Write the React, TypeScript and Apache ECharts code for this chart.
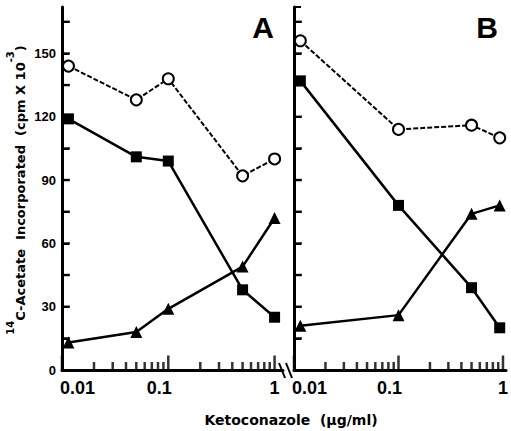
import React, { useEffect, useRef } from "react";
import * as echarts from "echarts";

// ---- data ----
const concA = [0.0115, 0.05, 0.1, 0.5, 1];
const controlA = [144, 128, 138, 92, 100];
const squaresA = [119, 101, 99, 38, 25];
const trianglesA = [13, 18, 29, 49, 72];

const concB = [0.0115, 0.1, 0.5, 0.93];
const controlB = [156, 114, 116, 110];
const squaresB = [137, 78, 39, 20];
const trianglesB = [21, 26, 74, 78];

const yTickValues = [15, 30, 45, 60, 75, 90, 105, 120, 135, 150, 165];
const yLabelStep = 30;
const xMajorTicks = [0.01, 0.1, 1];
const xMajorLabels = ["0.01", "0.1", "1"];
const xMinorTicks = [0.02, 0.03, 0.04, 0.05, 0.06, 0.07, 0.08, 0.09, 0.2, 0.3, 0.4, 0.5, 0.6, 0.7, 0.8, 0.9];
const panelLetters = ["A", "B"];
const xTitle = "Ketoconazole  (\u00b5g/ml)";

const xMax = [1.2, 1.07];
const grids = [
  { left: 62, top: 7, width: 221, height: 363 },
  { left: 294, top: 7, width: 216, height: 363 },
];

const TICK_FONT = "Liberation Sans";
const TITLE_FONT = "DejaVu Sans";

function buildOption() {
  const xAxis: any[] = [];
  const yAxis: any[] = [];
  const series: any[] = [];
  const panels = [
    { conc: concA, control: controlA, squares: squaresA, triangles: trianglesA },
    { conc: concB, control: controlB, squares: squaresB, triangles: trianglesB },
  ];
  panels.forEach((pd, p) => {
    const lmin = Math.log10(0.01);
    const lmax = Math.log10(xMax[p]);
    // data axis (log)
    xAxis.push({
      type: "log",
      logBase: 10,
      gridIndex: p,
      min: 0.01,
      max: xMax[p],
      position: "bottom",
      show: false,
    });
    // axis line + labels (in log10 units, same extent as the log axis)
    xAxis.push({
      type: "value",
      gridIndex: p,
      min: lmin,
      max: lmax,
      position: "bottom",
      axisLine: { show: true, onZero: false, lineStyle: { color: "#000", width: 3 } },
      axisTick: { show: false },
      axisLabel: {
        show: true,
        customValues: xMajorTicks.map((v) => Math.log10(v)),
        margin: 9,
        color: "#000",
        fontFamily: TICK_FONT,
        fontWeight: "bold",
        fontSize: 18,
        formatter: (v: number) => {
          const i = xMajorTicks.findIndex((t) => Math.abs(Math.log10(t) - v) < 1e-6);
          if (i < 0) return "";
          const key = i === 0 ? "r" : i === 1 ? "l" : "n";
          return `{${key}|${xMajorLabels[i]}}`;
        },
        rich: {
          r: { fontFamily: TICK_FONT, fontWeight: "bold", fontSize: 18, color: "#000", padding: [0, 0, 0, 31] },
          l: { fontFamily: TICK_FONT, fontWeight: "bold", fontSize: 18, color: "#000", padding: [0, 18, 0, 0] },
          n: { fontFamily: TICK_FONT, fontWeight: "bold", fontSize: 18, color: "#000" },
        },
      },
      splitLine: { show: false },
    });
    yAxis.push({
      type: "value",
      gridIndex: p,
      min: 0,
      max: 172,
      interval: 15,
      axisLine: { show: true, onZero: false, lineStyle: { color: "#000", width: 3 } },
      axisTick: { show: true, inside: true, length: 7, lineStyle: { color: "#000", width: 2 } },
      axisLabel: {
        show: p === 0,
        showMaxLabel: false,
        margin: 6,
        color: "#000",
        fontFamily: TICK_FONT,
        fontWeight: "bold",
        fontSize: 13,
        formatter: (v: number) => (Math.abs(v % yLabelStep) < 1e-6 ? String(v) : ""),
      },
      splitLine: { show: false },
    });
    const logIdx = p * 2;
    // x-axis tick marks, placed through the log axis
    series.push({
      type: "scatter",
      xAxisIndex: logIdx,
      yAxisIndex: p,
      silent: true,
      clip: false,
      symbol: "rect",
      symbolSize: [2.5, 8],
      symbolOffset: [0, -4],
      itemStyle: { color: "#000" },
      data: xMinorTicks.filter((t) => t <= xMax[p]).map((t) => [t, 0]),
      z: 1,
    });
    series.push({
      type: "scatter",
      xAxisIndex: logIdx,
      yAxisIndex: p,
      silent: true,
      clip: false,
      symbol: "rect",
      symbolSize: [2.5, 15],
      symbolOffset: [0, -7],
      itemStyle: { color: "#000" },
      data: xMajorTicks.filter((t) => t <= xMax[p]).map((t) => [t, 0]),
      z: 1,
    });
    // y-axis tick marks (inside)
    series.push({
      type: "scatter",
      xAxisIndex: logIdx + 1,
      yAxisIndex: p,
      silent: true,
      clip: false,
      symbol: "rect",
      symbolSize: [8, 2.5],
      symbolOffset: [4, 0],
      itemStyle: { color: "#000" },
      data: yTickValues.map((v) => [lmin, v]),
      z: 5,
    });
    series.push({
      type: "line",
      name: "control",
      xAxisIndex: logIdx,
      yAxisIndex: p,
      data: pd.conc.map((x, i) => [x, pd.control[i]]),
      symbol: "circle",
      symbolSize: 11,
      itemStyle: { color: "#fff", borderColor: "#000", borderWidth: 2 },
      lineStyle: { color: "#000", width: 2, type: [5, 2] },
      z: 4,
    });
    series.push({
      type: "line",
      name: "squares",
      xAxisIndex: logIdx,
      yAxisIndex: p,
      data: pd.conc.map((x, i) => [x, pd.squares[i]]),
      symbol: "rect",
      symbolSize: 11,
      itemStyle: { color: "#000" },
      lineStyle: { color: "#000", width: 2.5 },
      z: 3,
    });
    series.push({
      type: "line",
      name: "triangles",
      xAxisIndex: logIdx,
      yAxisIndex: p,
      data: pd.conc.map((x, i) => [x, pd.triangles[i]]),
      symbol: "triangle",
      symbolSize: 12,
      itemStyle: { color: "#000" },
      lineStyle: { color: "#000", width: 2.5 },
      z: 3,
    });
  });

  const graphic: any[] = [
    {
      type: "text",
      x: 16,
      y: 190,
      rotation: Math.PI / 2,
      style: {
        text: "{s|14}{b|C-Acetate  Incorporated  (cpm X 10}{s|-3}{b|)}",
        align: "center",
        verticalAlign: "middle",
        fill: "#000",
        rich: {
          b: { fontFamily: TITLE_FONT, fontWeight: "bold", fontSize: 13, lineHeight: 22, verticalAlign: "bottom", fill: "#000" },
          s: { fontFamily: TITLE_FONT, fontWeight: "bold", fontSize: 10, verticalAlign: "top", fill: "#000" },
        },
      },
    },
    {
      type: "text",
      x: 291,
      y: 420,
      style: {
        text: xTitle,
        align: "center",
        verticalAlign: "middle",
        fontFamily: TITLE_FONT,
        fontWeight: "bold",
        fontSize: 14,
        fill: "#000",
      },
    },
    {
      type: "text",
      x: 263,
      y: 27,
      style: { text: panelLetters[0], align: "center", verticalAlign: "middle", fontFamily: TICK_FONT, fontWeight: "bold", fontSize: 30, fill: "#000" },
    },
    {
      type: "text",
      x: 487,
      y: 27,
      style: { text: panelLetters[1], align: "center", verticalAlign: "middle", fontFamily: TICK_FONT, fontWeight: "bold", fontSize: 30, fill: "#000" },
    },
    { type: "line", shape: { x1: 279, y1: 363, x2: 285, y2: 378 }, style: { stroke: "#000", lineWidth: 2 } },
    { type: "line", shape: { x1: 286, y1: 363, x2: 292, y2: 378 }, style: { stroke: "#000", lineWidth: 2 } },
  ];

  return {
    animation: false,
    backgroundColor: "#fff",
    grid: grids,
    xAxis,
    yAxis,
    series,
    graphic,
  };
}

export default function App() {
  const ref = useRef<HTMLDivElement>(null);
  useEffect(() => {
    if (!ref.current) return;
    const chart = echarts.init(ref.current, undefined, { renderer: "svg" });
    chart.setOption(buildOption() as any);
    return () => chart.dispose();
  }, []);
  return <div ref={ref} style={{ position: "fixed", left: 0, top: 0, width: 511, height: 431 }} />;
}
